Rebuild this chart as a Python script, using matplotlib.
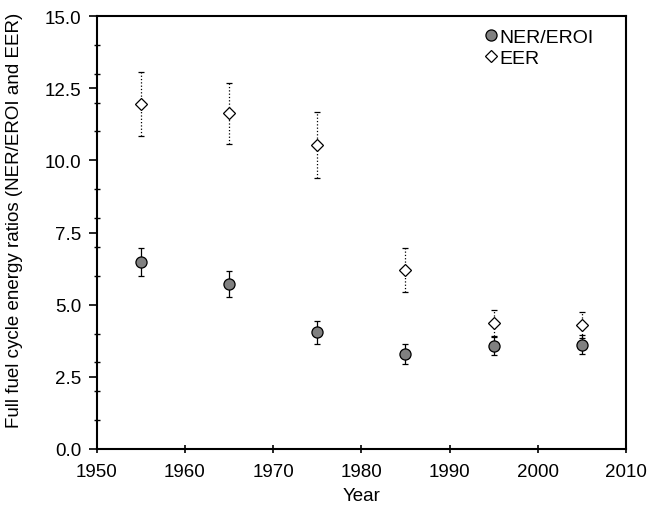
import matplotlib
matplotlib.use("Agg")
import matplotlib.pyplot as plt
from matplotlib.lines import Line2D
import numpy as np

# 数据
years = [1955, 1965, 1975, 1985, 1995, 2005]

ner = [6.49, 5.73, 4.04, 3.28, 3.56, 3.59]
ner_low = [6.00, 5.27, 3.65, 2.94, 3.26, 3.28]
ner_high = [6.96, 6.18, 4.44, 3.63, 3.88, 3.94]

eer = [11.95, 11.64, 10.52, 6.20, 4.36, 4.28]
eer_low = [10.85, 10.58, 9.39, 5.44, 3.91, 3.84]
eer_high = [13.05, 12.68, 11.66, 6.95, 4.81, 4.73]

plt.rcParams.update({
    "font.family": ["Liberation Sans", "DejaVu Sans"],
    "font.size": 13.5,
})

fig = plt.figure(figsize=(6.49, 5.06), dpi=100)
ax = fig.add_axes([96.7 / 649, 1 - 450 / 506, (626 - 96.7) / 649, (450 - 17) / 506])


def yerr(vals, low, high):
    v = np.array(vals)
    return [v - np.array(low), np.array(high) - v]


eb = ax.errorbar(years, eer, yerr=yerr(eer, eer_low, eer_high), fmt="D",
                 mfc="white", mec="black", mew=0.9, ms=6.5,
                 ecolor="black", elinewidth=0.9, capsize=2.2, capthick=0.9,
                 zorder=3)
eb[2][0].set_linestyle(":")

ax.errorbar(years, ner, yerr=yerr(ner, ner_low, ner_high), fmt="o",
            mfc="#808080", mec="black", mew=0.9, ms=8,
            ecolor="black", elinewidth=0.9, capsize=2.5, capthick=0.9,
            zorder=4)

ax.set_xlim(1950, 2010)
ax.set_ylim(0, 15)
ax.set_xticks(range(1950, 2011, 10))
ax.set_yticks(np.arange(0, 15.01, 2.5))
ax.set_yticks(np.arange(0, 15.01, 1.0), minor=True)
ax.yaxis.set_major_formatter(matplotlib.ticker.FormatStrFormatter("%.1f"))
ax.tick_params(axis="y", which="major", direction="out", length=6, width=1.2,
               labelsize=13.5, pad=5)
ax.tick_params(axis="x", which="major", direction="inout", length=6, width=1.2,
               labelsize=13.5, pad=7)
ax.tick_params(axis="y", which="minor", direction="inout", length=5, width=1.0)

for s in ax.spines.values():
    s.set_linewidth(1.5)

ax.set_xlabel("Year", fontsize=13.5, labelpad=5)
ax.set_ylabel("Full fuel cycle energy ratios (NER/EROI and EER)", fontsize=13.5)
ax.yaxis.set_label_coords(-0.139, 0.531)

handles = [
    Line2D([], [], ls="none", marker="o", mfc="#808080", mec="black", mew=0.9, ms=8),
    Line2D([], [], ls="none", marker="D", mfc="white", mec="black", mew=0.9, ms=6.5),
]
ax.legend(handles, ["NER/EROI", "EER"], loc="upper left", bbox_to_anchor=(0.72, 0.99),
          frameon=False, handlelength=0.6, handletextpad=0.1, borderaxespad=0,
          labelspacing=0.2, fontsize=14)

fig.savefig("out.png", dpi=100)
